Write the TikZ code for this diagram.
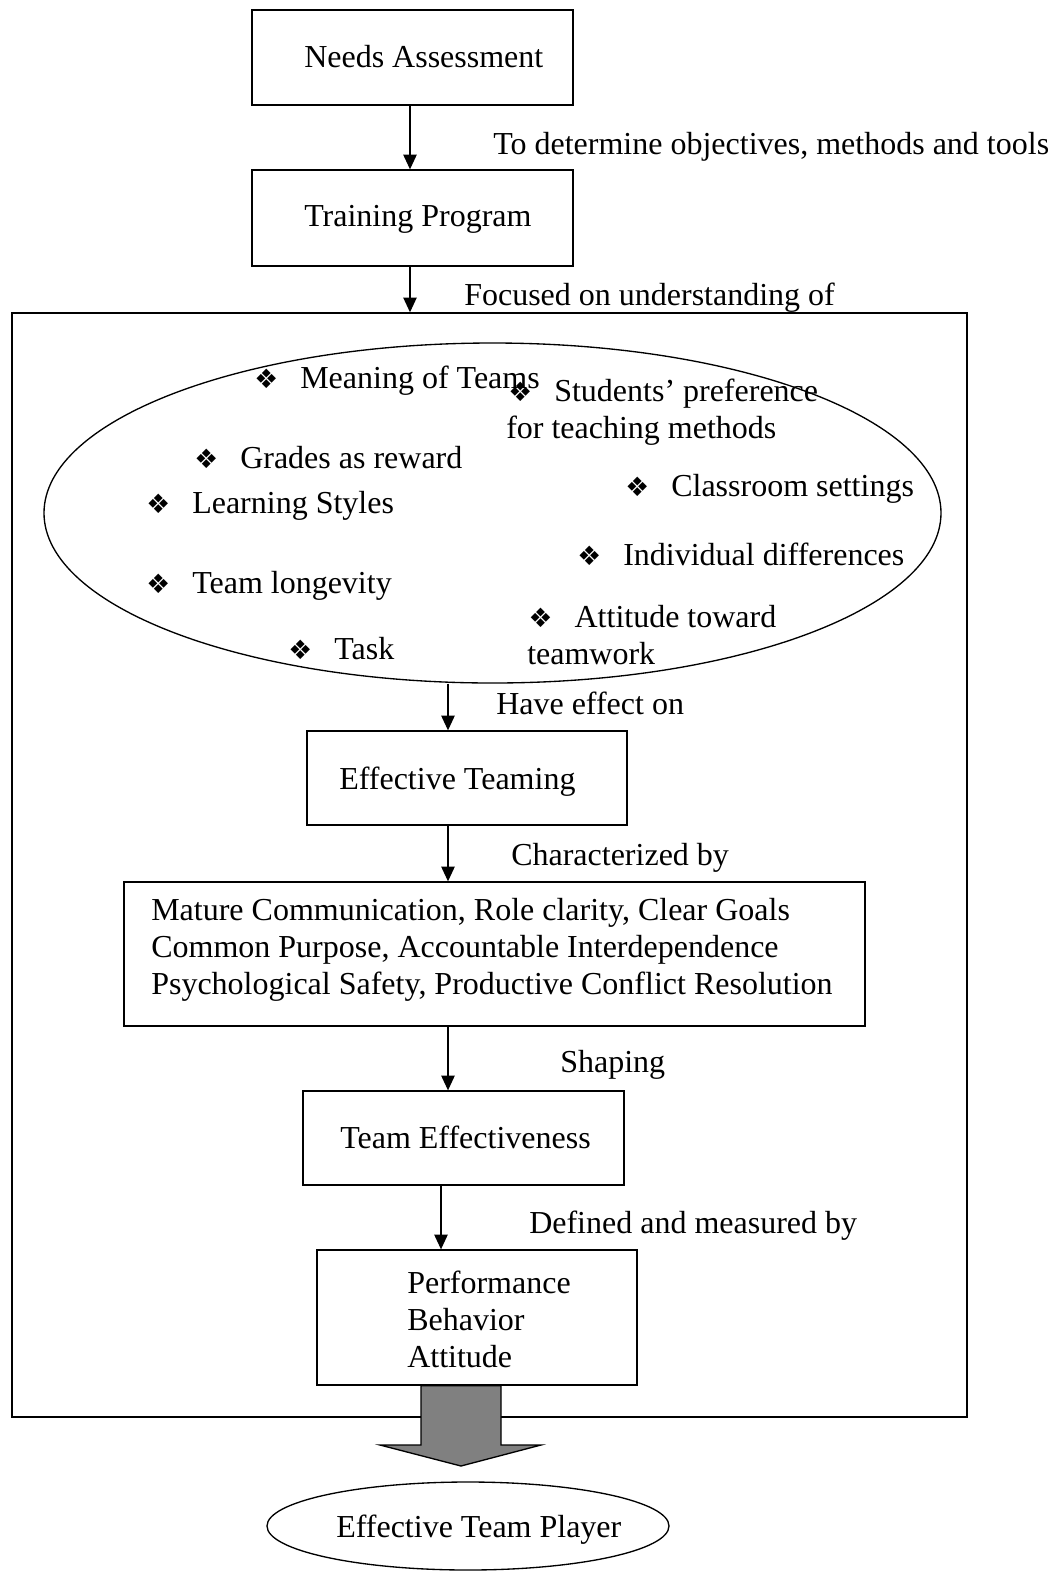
\documentclass[tikz,border=0pt]{standalone}
\usepackage{fontspec}
\setmainfont{Liberation Serif}
\newfontfamily\dejavu{DejaVu Sans}
\usetikzlibrary{arrows.meta,shapes.geometric}
\newcommand\bul{{\dejavu\fontsize{20}{20}\selectfont ❖}}
\newcommand\bitem[1]{\makebox[34.5pt][l]{\bul}#1}
\begin{document}
\begin{tikzpicture}[x=0.75pt,y=-0.75pt,
  every node/.style={font=\fontsize{24}{27.75}\selectfont, inner sep=0pt},
  txt/.style={anchor=west, align=left},
  conn/.style={line width=1pt, -{Triangle[length=11pt,width=10pt]}}]
\useasboundingbox (0,0) rectangle (1057,1572);

% boxes
\node[draw, line width=1pt, minimum width=240.75pt, minimum height=71.25pt] (na) at (412.5,57.5) {};
\node[draw, line width=1pt, minimum width=240.75pt, minimum height=72pt] (tp) at (412.5,218) {};
\node[draw, line width=1.1pt, minimum width=716.25pt, minimum height=828pt] (fr) at (489.5,865) {};
\node[draw, line width=1pt, ellipse, minimum width=672.75pt, minimum height=255pt] (el) at (492.5,513) {};
\node[draw, line width=1pt, minimum width=240pt, minimum height=70.5pt] (et) at (467,778) {};
\node[draw, line width=1pt, minimum width=555.75pt, minimum height=108pt] (ch) at (494.5,954) {};
\node[draw, line width=1pt, minimum width=240.75pt, minimum height=70.5pt] (te) at (463.5,1138) {};
\node[draw, line width=1pt, minimum width=240pt, minimum height=101.25pt] (pf) at (477,1317.5) {};
\node[draw, line width=1pt, ellipse, minimum width=301.5pt, minimum height=66pt] (tpl) at (468,1526) {};

% box texts
\node[txt] (tna) at (304,57) {Needs Assessment};
\node[txt] (ttp) at (304,219) {Training Program};
\node[txt] (tet) at (339,782) {Effective Teaming};
\node[txt] (tch) at (151,950) {Mature Communication, Role clarity, Clear Goals\\Common Purpose, Accountable Interdependence\\Psychological Safety, Productive Conflict Resolution};
\node[txt] (tte) at (340,1137) {Team Effectiveness};
\node[txt] (tpf) at (407,1319) {Performance\\Behavior\\Attitude};
\node[txt] (ttpl) at (336,1530) {Effective Team Player};

% connector labels
\node[txt] (l1) at (493,147) {To determine objectives, methods and tools};
\node[txt] (l2) at (464,298) {Focused on understanding of};
\node[txt] (l3) at (496,703) {Have effect on};
\node[txt] (l4) at (511,858) {Characterized by};
\node[txt] (l5) at (560,1065) {Shaping};
\node[txt] (l6) at (529,1226) {Defined and measured by};

% ellipse items
\node[txt] (i1) at (254,381) {\bitem{Meaning of Teams}};
\node[txt] (i2) at (506,412) {\hspace*{1.5pt}\bitem{Students’ preference}\\for teaching methods};
\node[txt] (i3) at (194,458) {\bitem{Grades as reward}};
\node[txt] (i4) at (625,489) {\bitem{Classroom settings}};
\node[txt] (i5) at (146,506) {\bitem{Learning Styles}};
\node[txt] (i6) at (577,554) {\bitem{Individual differences}};
\node[txt] (i7) at (146,586) {\bitem{Team longevity}};
\node[txt] (i8) at (527,635) {\hspace*{1pt}\bitem{Attitude toward}\\teamwork};
\node[txt] (i9) at (288,649) {\bitem{Task}};

% connectors
\draw[conn] (410,0 |- na.south) -- (410,0 |- tp.north);
\draw[conn] (410,0 |- tp.south) -- (410,0 |- fr.north);
\draw[conn] (448,0 |- el.south) -- (448,0 |- et.north);
\draw[conn] (448,0 |- et.south) -- (448,0 |- ch.north);
\draw[conn] (448,0 |- ch.south) -- (448,0 |- te.north);
\draw[conn] (441,0 |- te.south) -- (441,0 |- pf.north);

% big gray arrow
\draw[line width=1pt, fill=black!50]
  (421,0 |- pf.south) -- (421,1445) -- (380,1445) -- (461,1466) -- (541,1445) -- (501,1445) -- (501,0 |- pf.south) -- cycle;
\end{tikzpicture}
\end{document}
